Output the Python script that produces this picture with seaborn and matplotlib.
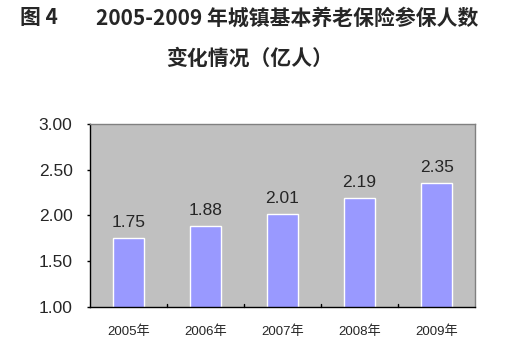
import matplotlib
matplotlib.use("Agg")
import matplotlib.pyplot as plt
import seaborn as sns
import pandas as pd

years = ["2005年", "2006年", "2007年", "2008年", "2009年"]
values = [1.75, 1.88, 2.01, 2.19, 2.35]
y_ticks = [1.00, 1.50, 2.00, 2.50, 3.00]

sns.set_style("white")
plt.rcParams['font.family'] = ['Liberation Sans', 'Noto Sans CJK SC', 'DejaVu Sans']

df = pd.DataFrame({"year": years, "value": values})

fig = plt.figure(figsize=(5.05, 3.54), dpi=100)
ax = fig.add_axes([0.178, 0.133, 0.763, 0.517])
ax.set_facecolor("#C0C0C0")

sns.barplot(data=df, x="year", y="value", color="#9999FF", saturation=1,
            width=0.4, ax=ax)

ax.set_ylim(1.0, 3.0)
ax.set_xlim(-0.5, len(years) - 0.5)
ax.set_yticks(y_ticks)
ax.set_yticklabels([f"{v:.2f}" for v in y_ticks], fontsize=12.5)
ax.set_xticks(range(len(years)))
ax.set_xticklabels(years, fontsize=9.5,
                   family=['Liberation Sans', 'Noto Sans CJK SC'])
ax.tick_params(axis="x", length=0, pad=13)
ax.tick_params(axis="y", length=2.5, width=1, color="black", direction="out",
               left=True, pad=10)
# boundary ticks on x axis
for b in [0.5, 1.5, 2.5, 3.5]:
    ax.plot([b, b], [1.0, 1.035], color="black", lw=1, clip_on=False)
ax.set_xlabel("")
ax.set_ylabel("")

for s in ["left", "bottom"]:
    ax.spines[s].set_color("black")
    ax.spines[s].set_linewidth(1)
for s in ["top", "right"]:
    ax.spines[s].set_visible(True)
    ax.spines[s].set_color("#808080")
    ax.spines[s].set_linewidth(1)

for i, v in enumerate(values):
    ax.text(i, v + 0.09, f"{v:.2f}", ha="center", va="bottom", fontsize=12.5)

title_font = ['Noto Sans CJK SC', 'DejaVu Sans']
fig.text(0.04, 0.95, "图 4", fontsize=15, fontweight="bold", family=title_font,
         ha="left", va="center")
fig.text(0.19, 0.95, "2005-2009 年城镇基本养老保险参保人数", fontsize=15,
         fontweight="bold", family=title_font, ha="left", va="center")
fig.text(0.495, 0.835, "变化情况（亿人）", fontsize=15, fontweight="bold",
         family=title_font, ha="center", va="center")

fig.savefig("out.png", dpi=100)
